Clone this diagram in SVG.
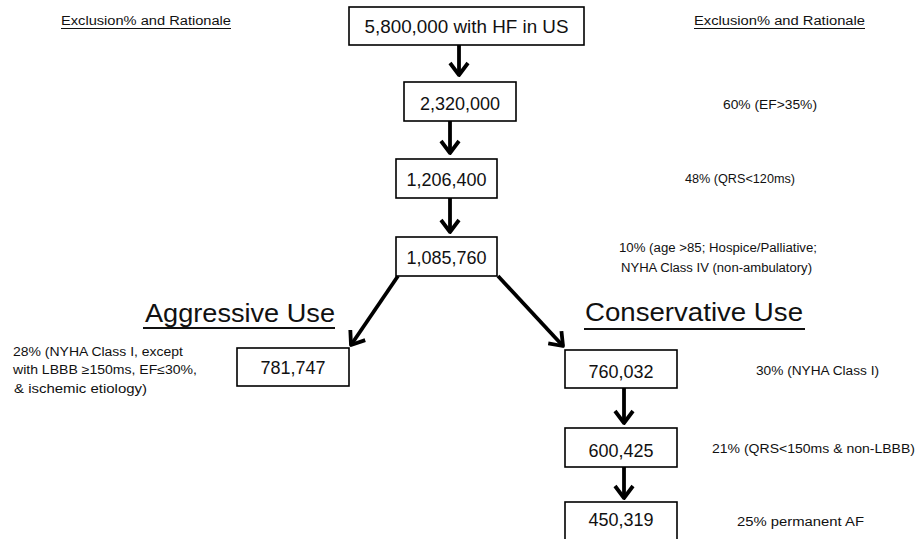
<svg xmlns="http://www.w3.org/2000/svg" width="916" height="539" viewBox="0 0 916 539">
<style>
.box{fill:#fff;stroke:#000;stroke-width:1.6}
.num{font-family:"Liberation Sans",Arial,sans-serif;font-size:18px;fill:#111;text-anchor:middle}
.note{font-family:"Liberation Sans",Arial,sans-serif;font-size:12.5px;fill:#111}
.head{font-family:"Liberation Sans",Arial,sans-serif;font-size:26px;fill:#111}
.ul{stroke:#111;stroke-width:1.2}
.ulh{stroke:#111;stroke-width:2}
.arr{stroke:#000;stroke-width:3.8;fill:none;marker-end:url(#ah)}
</style>
<defs>
<marker id="ah" viewBox="0 0 20 22" refX="15" refY="11" markerWidth="20" markerHeight="22" orient="auto" markerUnits="userSpaceOnUse">
<path d="M3,2 L15,11 L3,20" fill="none" stroke="#000" stroke-width="3.8" stroke-linejoin="round"/>
</marker>
</defs>
<rect width="916" height="539" fill="#fff"/>
<g id="headers">
<text class="note" x="61" y="25" textLength="170" lengthAdjust="spacingAndGlyphs">Exclusion% and Rationale</text>
<line class="ul" x1="61" y1="28.5" x2="231" y2="28.5"/>
<text class="note" x="694" y="25" textLength="171" lengthAdjust="spacingAndGlyphs">Exclusion% and Rationale</text>
<line class="ul" x1="694" y1="28.5" x2="865" y2="28.5"/>
<text class="head" x="145" y="322" textLength="190" lengthAdjust="spacingAndGlyphs">Aggressive Use</text>
<line class="ulh" x1="143" y1="328" x2="335" y2="328"/>
<text class="head" x="585" y="321" textLength="218" lengthAdjust="spacingAndGlyphs">Conservative Use</text>
<line class="ulh" x1="584" y1="329" x2="805" y2="329"/>
</g>
<g id="connectors">
<line class="arr" x1="459" y1="45" x2="459" y2="75"/>
<line class="arr" x1="450" y1="121" x2="450" y2="153"/>
<line class="arr" x1="450" y1="198" x2="450" y2="232"/>
<line class="arr" x1="398" y1="276" x2="351" y2="345"/>
<line class="arr" x1="498" y1="276" x2="563" y2="346"/>
<line class="arr" x1="624" y1="388" x2="624" y2="423"/>
<line class="arr" x1="624" y1="467" x2="624" y2="498"/>
</g>
<g id="n1"><rect class="box" x="349" y="7" width="235" height="38"/><text class="num" x="466.5" y="33" textLength="204" lengthAdjust="spacingAndGlyphs">5,800,000 with HF in US</text></g>
<g id="n2"><rect class="box" x="404" y="82" width="112" height="39"/><text class="num" x="460" y="110">2,320,000</text></g>
<g id="n3"><rect class="box" x="396" y="159" width="101" height="39"/><text class="num" x="446.5" y="186">1,206,400</text></g>
<g id="n4"><rect class="box" x="396" y="237" width="101" height="39"/><text class="num" x="446.5" y="264">1,085,760</text></g>
<g id="n5"><rect class="box" x="237" y="348" width="112" height="38"/><text class="num" x="293" y="374">781,747</text></g>
<g id="n6"><rect class="box" x="565" y="350" width="112" height="38"/><text class="num" x="621" y="378">760,032</text></g>
<g id="n7"><rect class="box" x="565" y="428" width="112" height="39"/><text class="num" x="621" y="457">600,425</text></g>
<g id="n8"><rect class="box" x="565" y="502" width="112" height="45"/><text class="num" x="621" y="526">450,319</text></g>
<g id="notes">
<text class="note" x="723" y="109" textLength="94" lengthAdjust="spacingAndGlyphs">60% (EF&gt;35%)</text>
<text class="note" x="685" y="183" textLength="110" lengthAdjust="spacingAndGlyphs">48% (QRS&lt;120ms)</text>
<text class="note" x="619" y="252" textLength="198" lengthAdjust="spacingAndGlyphs">10% (age &gt;85; Hospice/Palliative;</text>
<text class="note" x="621" y="272" textLength="191" lengthAdjust="spacingAndGlyphs">NYHA Class IV (non-ambulatory)</text>
<text class="note" x="13" y="356" textLength="170" lengthAdjust="spacingAndGlyphs">28% (NYHA Class I, except</text>
<text class="note" x="13" y="374" textLength="184" lengthAdjust="spacingAndGlyphs">with LBBB ≥150ms, EF≤30%,</text>
<text class="note" x="14" y="393" textLength="133" lengthAdjust="spacingAndGlyphs">&amp; ischemic etiology)</text>
<text class="note" x="756" y="375" textLength="123" lengthAdjust="spacingAndGlyphs">30% (NYHA Class I)</text>
<text class="note" x="712" y="453" textLength="203" lengthAdjust="spacingAndGlyphs">21% (QRS&lt;150ms &amp; non-LBBB)</text>
<text class="note" x="737" y="526" textLength="127" lengthAdjust="spacingAndGlyphs">25% permanent AF</text>
</g>
</svg>
